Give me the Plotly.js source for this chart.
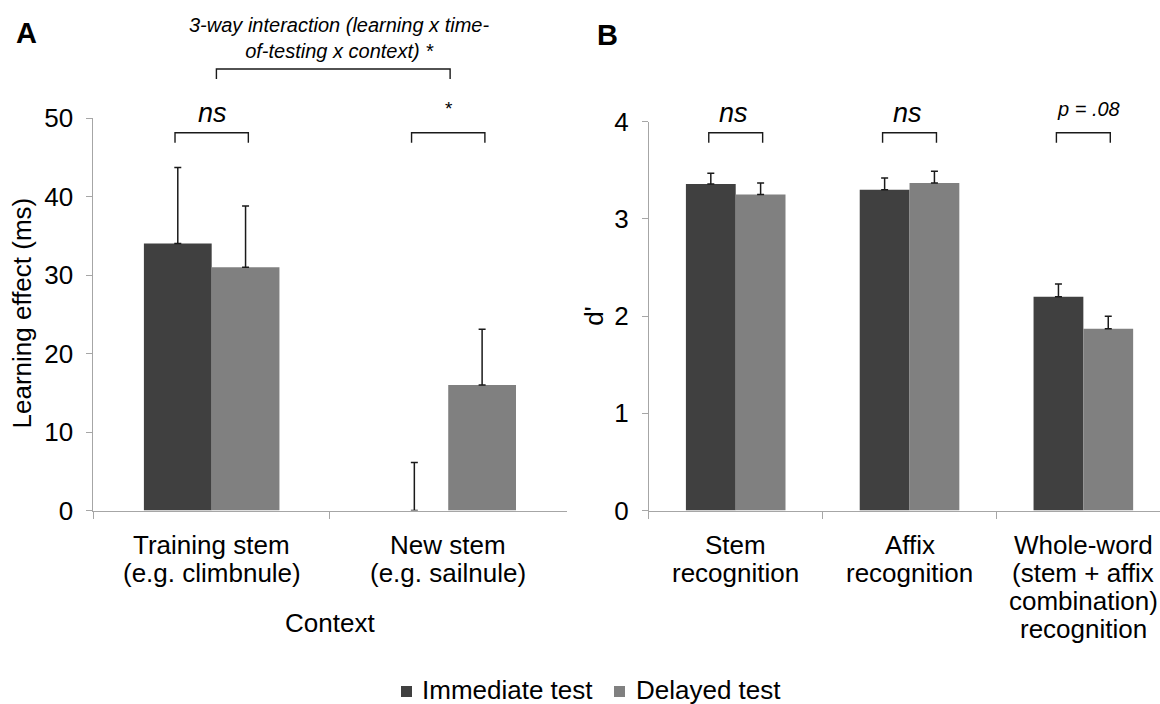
<!DOCTYPE html>
<html>
<head>
<meta charset="utf-8">
<script src="https://cdn.plot.ly/plotly-3.0.1.min.js"></script>
<style>
html, body { margin: 0; padding: 0; background: #ffffff; overflow: hidden; }
#chart { width: 1160px; height: 704px; }
</style>
</head>
<body>
<div id="chart"></div>
<script>
// ---------------- Data ----------------
// Panel A: learning effect (ms) by context
const contextsA = ['Training stem', 'New stem'];
const contextTickLinesA = [['Training stem', '(e.g. climbnule)'], ['New stem', '(e.g. sailnule)']];
const immediateA = [34.0, 0.0];
const immediateErrA = [9.7, 6.1];
const delayedA = [31.0, 16.0];
const delayedErrA = [7.8, 7.1];
const yTicksA = [0, 10, 20, 30, 40, 50];

// Panel B: d' by recognition type
const measuresB = ['Stem recognition', 'Affix recognition', 'Whole-word recognition'];
const measureTickLinesB = [
  ['Stem', 'recognition'],
  ['Affix', 'recognition'],
  ['Whole-word', '(stem + affix', 'combination)', 'recognition']
];
const immediateB = [3.36, 3.30, 2.20];
const immediateErrB = [0.11, 0.12, 0.13];
const delayedB = [3.25, 3.37, 1.87];
const delayedErrB = [0.12, 0.12, 0.13];
const yTicksB = [0, 1, 2, 3, 4];

const seriesNames = ['Immediate test', 'Delayed test'];
const sigLabelsA = ['ns', '*'];
const sigLabelsB = ['ns', 'ns', 'p = .08'];
const interactionLabel = '3-way interaction (learning x time-<br>of-testing x context) *';
const xTitleA = 'Context';
const yTitleA = 'Learning effect (ms)';
const yTitleB = "d'";

// ---------------- Styling / layout constants ----------------
const W = 1160, H = 704;
const FONT = 'Liberation Sans, Arial, Helvetica, sans-serif';
const DARK = '#404040', LIGHT = '#808080';
const SERIES_COLORS = [DARK, LIGHT];
const AXIS = '#a6a6a6';
const px = v => v / W;
const py = v => (H - v) / H;

const rangeA = [-0.5, 1.5];
const rangeB = [-0.5, 2.441];
const yMaxA = 50, yMaxB = 4;

function errOpts(arr) {
  return {
    type: 'data', symmetric: false, array: arr,
    arrayminus: arr.map(() => 0),
    color: '#1a1a1a', thickness: 1.5, width: 3.5, visible: true
  };
}

const traces = [
  { type: 'bar', name: seriesNames[0], x: contextsA, y: immediateA, xaxis: 'x', yaxis: 'y',
    marker: { color: DARK, line: { width: 0 } }, error_y: errOpts(immediateErrA) },
  { type: 'bar', name: seriesNames[1], x: contextsA, y: delayedA, xaxis: 'x', yaxis: 'y',
    marker: { color: LIGHT, line: { width: 0 } }, error_y: errOpts(delayedErrA) },
  { type: 'bar', name: seriesNames[0], x: measuresB, y: immediateB, xaxis: 'x2', yaxis: 'y2',
    marker: { color: DARK, line: { width: 0 } }, error_y: errOpts(immediateErrB) },
  { type: 'bar', name: seriesNames[1], x: measuresB, y: delayedB, xaxis: 'x2', yaxis: 'y2',
    marker: { color: LIGHT, line: { width: 0 } }, error_y: errOpts(delayedErrB) }
];

// helpers: axis value -> domain fraction
const xdA = v => (v - rangeA[0]) / (rangeA[1] - rangeA[0]);
const xdB = v => (v - rangeB[0]) / (rangeB[1] - rangeB[0]);

function bracket(xa, ya, xd, c0, c1, yTop, yLeg) {
  const a = xd(c0), b = xd(c1);
  return {
    type: 'path', xref: xa + ' domain', yref: ya + ' domain',
    path: `M${a},${yLeg} L${a},${yTop} L${b},${yTop} L${b},${yLeg}`,
    line: { color: '#1a1a1a', width: 1.4 }, layer: 'above'
  };
}

const OFF = 0.155;
const shapes = [];
// panel A pair brackets
contextsA.forEach((c, i) => {
  shapes.push(bracket('x', 'y', xdA, i - OFF, i + OFF, 48.13 / yMaxA, 46.85 / yMaxA));
});
// panel A interaction bracket
shapes.push(bracket('x', 'y', xdA, 0.02, 1.008, 56.24 / yMaxA, 54.97 / yMaxA));
// panel B pair brackets
measuresB.forEach((c, i) => {
  shapes.push(bracket('x2', 'y2', xdB, i - OFF, i + OFF, 3.887 / yMaxB, 3.784 / yMaxB));
});

const annotations = [];
const baseAnn = { showarrow: false, font: { family: FONT, size: 26, color: '#000' } };

// significance labels
annotations.push(Object.assign({}, baseAnn, {
  text: sigLabelsA[0], xref: 'x domain', yref: 'y domain', x: xdA(0.003), y: 50.69 / yMaxA,
  xanchor: 'center', yanchor: 'middle', font: { family: FONT, size: 27, style: 'italic', color: '#000' }
}));
annotations.push(Object.assign({}, baseAnn, {
  text: sigLabelsA[1], xref: 'x domain', yref: 'y domain', x: xdA(1.005), y: 51.19 / yMaxA,
  xanchor: 'center', yanchor: 'middle', font: { family: FONT, size: 19, color: '#000' }
}));
sigLabelsB.forEach((t, i) => {
  const isP = t.indexOf('p') === 0;
  annotations.push(Object.assign({}, baseAnn, {
    text: t, xref: 'x2 domain', yref: 'y2 domain', x: xdB(i + (isP ? 0.03 : -0.01)),
    y: (isP ? 4.13 : 4.094) / yMaxB, xanchor: 'center', yanchor: 'middle',
    font: { family: FONT, size: isP ? 20 : 27, style: 'italic', color: '#000' }
  }));
});

// interaction label
annotations.push(Object.assign({}, baseAnn, {
  text: interactionLabel, xref: 'paper', yref: 'paper', x: px(338.5), y: py(38),
  xanchor: 'center', yanchor: 'middle', align: 'center',
  font: { family: FONT, size: 20, style: 'italic', color: '#000' }
}));

// category tick labels (one annotation per line for tight line spacing)
const LINE0 = 544.5, LINESTEP = 28.3;
contextTickLinesA.forEach((lines, i) => {
  lines.forEach((t, j) => {
    annotations.push(Object.assign({}, baseAnn, {
      text: t, xref: 'x', yref: 'paper', x: contextsA[i], y: py(LINE0 + j * LINESTEP),
      xanchor: 'center', yanchor: 'middle'
    }));
  });
});
measureTickLinesB.forEach((lines, i) => {
  lines.forEach((t, j) => {
    annotations.push(Object.assign({}, baseAnn, {
      text: t, xref: 'x2', yref: 'paper', x: measuresB[i], y: py(LINE0 + j * LINESTEP),
      xanchor: 'center', yanchor: 'middle'
    }));
  });
});

// axis titles
annotations.push(Object.assign({}, baseAnn, {
  text: xTitleA, xref: 'paper', yref: 'paper', x: px(329.7), y: py(622.7),
  xanchor: 'center', yanchor: 'middle'
}));
annotations.push(Object.assign({}, baseAnn, {
  text: yTitleA, xref: 'paper', yref: 'paper', x: px(21), y: py(313.5),
  xanchor: 'center', yanchor: 'middle', textangle: -90
}));
annotations.push(Object.assign({}, baseAnn, {
  text: yTitleB, xref: 'paper', yref: 'paper', x: px(594), y: py(316.7),
  xanchor: 'center', yanchor: 'middle', textangle: -90
}));

// panel letters
annotations.push(Object.assign({}, baseAnn, {
  text: '<b>A</b>', xref: 'paper', yref: 'paper', x: px(26), y: py(33.3),
  xanchor: 'center', yanchor: 'middle', font: { family: FONT, size: 29, color: '#000' }
}));
annotations.push(Object.assign({}, baseAnn, {
  text: '<b>B</b>', xref: 'paper', yref: 'paper', x: px(607.5), y: py(35),
  xanchor: 'center', yanchor: 'middle', font: { family: FONT, size: 29, color: '#000' }
}));

// legend (drawn as swatches + labels so it sits tight to the bottom edge)
const legendSwatchX = [401, 614];
const legendTextX = [420, 633.5];
seriesNames.forEach((name, k) => {
  shapes.push({
    type: 'rect', xref: 'paper', yref: 'paper',
    x0: px(legendSwatchX[k]), x1: px(legendSwatchX[k] + 11), y0: py(697), y1: py(686),
    fillcolor: SERIES_COLORS[k], line: { width: 0 }
  });
  annotations.push(Object.assign({}, baseAnn, {
    text: name, xref: 'paper', yref: 'paper', x: px(legendTextX[k]), y: py(689.5),
    xanchor: 'left', yanchor: 'middle', font: { family: FONT, size: 26, color: '#000' }
  }));
});

const xCommon = {
  type: 'category', tickson: 'boundaries', ticks: 'outside', ticklen: 7, tickwidth: 1,
  tickcolor: AXIS, showline: true, linecolor: AXIS, linewidth: 1,
  showgrid: false, zeroline: false, showticklabels: false, fixedrange: true, automargin: false
};
const yCommon = {
  ticks: 'outside', ticklen: 6, tickwidth: 1, tickcolor: AXIS,
  showline: true, linecolor: AXIS, linewidth: 1, showgrid: false, zeroline: false,
  tickfont: { family: FONT, size: 26, color: '#000' }, ticklabelstandoff: 8,
  fixedrange: true, automargin: false
};

const layout = {
  width: W, height: H,
  margin: { l: 0, r: 0, t: 0, b: 0, pad: 0, autoexpand: false },
  paper_bgcolor: '#ffffff', plot_bgcolor: 'rgba(0,0,0,0)',
  font: { family: FONT, color: '#000' },
  barmode: 'group', bargap: 0.427, bargroupgap: 0,
  xaxis: Object.assign({}, xCommon, { domain: [px(93.4), px(566.5)], range: rangeA, anchor: 'y' }),
  yaxis: Object.assign({}, yCommon, { domain: [py(510.5), py(118)], range: [0, yMaxA], tickvals: yTicksA, anchor: 'x' }),
  xaxis2: Object.assign({}, xCommon, { domain: [px(648.8), 1], range: rangeB, anchor: 'y2' }),
  yaxis2: Object.assign({}, yCommon, { domain: [py(510.6), py(121.7)], range: [0, yMaxB], tickvals: yTicksB, anchor: 'x2' }),
  showlegend: false,
  shapes: shapes,
  annotations: annotations
};

Plotly.newPlot('chart', traces, layout, { staticPlot: true, displayModeBar: false });
</script>
</body>
</html>
